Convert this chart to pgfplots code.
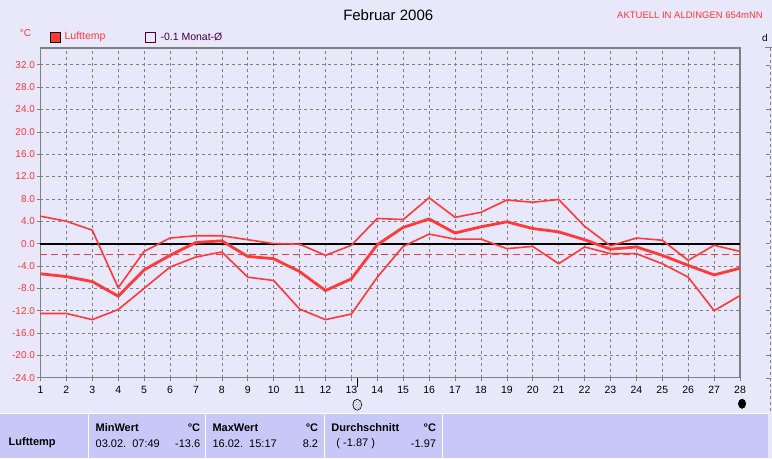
\documentclass[border=0pt]{standalone}
\usepackage{fontspec}
\setmainfont{Liberation Sans}
\usepackage{pgfplots}
\pgfplotsset{compat=1.18}
\usetikzlibrary{patterns}
\definecolor{bgc}{RGB}{232,232,250}
\definecolor{tabc}{RGB}{200,200,248}
\definecolor{lred}{RGB}{255,56,56}
\definecolor{gridc}{RGB}{128,128,128}
\definecolor{dpurp}{RGB}{64,0,64}
\begin{document}
\begin{tikzpicture}
\begin{scope}[x=1pt,y=1pt,shift={(-40pt,-80pt)}]
\path[use as bounding box] (0,0) rectangle (772,458);
\fill[bgc] (0,0) rectangle (772,458);
\node[font=\fontsize{15}{16}\selectfont] at (388,443) {Februar 2006};
\node[anchor=east, text=lred, font=\fontsize{9.5}{10}\selectfont, inner sep=0] at (763,443) {AKTUELL IN ALDINGEN 654mNN};
\node[text=lred, font=\fontsize{10}{11}\selectfont] at (25,425) {°C};
\node[font=\fontsize{10}{11}\selectfont, inner sep=0] at (765,420) {d};
\filldraw[fill=lred, draw=black, line width=0.8pt] (50,416) rectangle (60,426);
\node[anchor=west, text=lred, font=\fontsize{10.5}{11}\selectfont, inner sep=0] at (64,421) {Lufttemp};
\draw[dpurp, line width=0.8pt] (145,416) rectangle (155,426);
\node[anchor=west, text=dpurp, font=\fontsize{10.5}{11}\selectfont, inner sep=0] at (160,421) {-0.1 Monat-Ø};
\draw[gridc, line width=1pt] (765,410) -- (772,410);
\draw[gridc, dashed, line width=0.6pt] (770,410) -- (770,46);
\foreach \yy in {393,371,349,326,304,282,259,237,215,192,170,148,125,103,80} {\draw[gridc] (766,\yy) -- (770,\yy);}
\end{scope}
\begin{axis}[
  at={(0pt,0pt)}, anchor=south west,
  scale only axis, width=700pt, height=330pt,
  xmin=1, xmax=28, ymin=-24, ymax=35,
  axis background/.style={fill=bgc},
  axis line style={gridc, line width=1.3pt},
  xtick={1,...,28},
  ytick={-24,-20,...,32},
  yticklabels={-24.0,-20.0,-16.0,-12.0,-8.0,-4.0,0.0,4.0,8.0,12.0,16.0,20.0,24.0,28.0,32.0},
  tick align=outside,
  major tick length=3pt,
  tick style={gridc, line width=0.6pt},
  xtick pos=bottom, ytick pos=left,
  grid=major,
  major grid style={gridc, dash pattern=on 3pt off 3pt, line width=0.6pt},
  /pgf/number format/assume math mode=true,
  xticklabel style={font=\fontsize{10.5}{11}\selectfont, text=black, yshift=-2pt},
  yticklabel style={font=\fontsize{10}{11}\selectfont, text=lred, xshift=1pt},
  extra x ticks={13.25,28.05},
  extra x tick labels={},
  extra x tick style={grid=none, major tick length=9pt, tick style={black, line width=0.8pt}},
  clip=false,
]
\addplot[lred, line width=0.8pt, dash pattern=on 7pt off 4pt] coordinates {(1,-2) (28,-2)};
\addplot[black, line width=2pt] coordinates {(1,0) (28,0)};
% max
\addplot[lred, line width=1.6pt] coordinates {
(1,4.9)(2,4.0)(3,2.4)(4,-7.9)(5,-1.4)(6,1.0)(7,1.4)(8,1.4)(9,0.7)(10,0)(11,-0.1)(12,-2.1)(13,-0.3)(14,4.5)
(15,4.3)(16,8.2)(17,4.7)(18,5.6)(19,7.8)(20,7.4)(21,7.9)(22,3.1)(23,-0.4)(24,1.0)(25,0.6)(26,-3.0)(27,-0.3)(28,-1.4)};
% mean
\addplot[lred, line width=2.8pt] coordinates {
(1,-5.4)(2,-5.9)(3,-6.8)(4,-9.4)(5,-4.7)(6,-2.1)(7,0.2)(8,0.5)(9,-2.3)(10,-2.7)(11,-5.0)(12,-8.4)(13,-6.3)(14,-0.2)
(15,2.9)(16,4.4)(17,1.9)(18,3.0)(19,3.9)(20,2.7)(21,2.1)(22,0.7)(23,-1.0)(24,-0.6)(25,-2.1)(26,-3.9)(27,-5.6)(28,-4.4)};
% min
\addplot[lred, line width=1.6pt] coordinates {
(1,-12.5)(2,-12.5)(3,-13.6)(4,-11.8)(5,-8.0)(6,-4.2)(7,-2.4)(8,-1.5)(9,-6.0)(10,-6.6)(11,-11.7)(12,-13.6)(13,-12.6)(14,-6.0)
(15,-0.5)(16,1.7)(17,0.8)(18,0.8)(19,-0.9)(20,-0.5)(21,-3.6)(22,-0.6)(23,-1.8)(24,-1.8)(25,-3.6)(26,-6.0)(27,-12.0)(28,-9.3)};
\end{axis}
\begin{scope}[x=1pt,y=1pt,shift={(-40pt,-80pt)}]
\filldraw[draw=black, pattern=crosshatch dots, pattern color=gray, line width=0.6pt] (357,53) ellipse (4.5 and 5.5);
\filldraw[fill=black, draw=white, line width=0.6pt] (742,54) ellipse (4.5 and 5.5);
\fill[tabc] (0,0) rectangle (768,44);
\draw[white, line width=1pt] (0,44) -- (768,44);
\foreach \xx in {88,205,324,442} {\draw[white, line width=1.2pt] (\xx,0) -- (\xx,44);}
\begin{scope}[font=\fontsize{11}{12}\selectfont, inner sep=0]
\node[anchor=west, font=\fontsize{11}{12}\selectfont\bfseries] at (8,15) {Lufttemp};
\node[anchor=west, font=\fontsize{11}{12}\selectfont\bfseries] at (95,30) {MinWert};
\node[anchor=east, font=\fontsize{11}{12}\selectfont\bfseries] at (200,30) {°C};
\node[anchor=west] at (95,14) {03.02.\ \ 07:49};
\node[anchor=east] at (200,14) {-13.6};
\node[anchor=west, font=\fontsize{11}{12}\selectfont\bfseries] at (212,30) {MaxWert};
\node[anchor=east, font=\fontsize{11}{12}\selectfont\bfseries] at (318,30) {°C};
\node[anchor=west] at (212,14) {16.02.\ \ 15:17};
\node[anchor=east] at (318,14) {8.2};
\node[anchor=west, font=\fontsize{11}{12}\selectfont\bfseries] at (331,30) {Durchschnitt};
\node[anchor=east, font=\fontsize{11}{12}\selectfont\bfseries] at (436,30) {°C};
\node[anchor=west] at (336,14) {( -1.87 )};
\node[anchor=east] at (436,14) {-1.97};
\end{scope}
\end{scope}
\end{tikzpicture}
\end{document}
